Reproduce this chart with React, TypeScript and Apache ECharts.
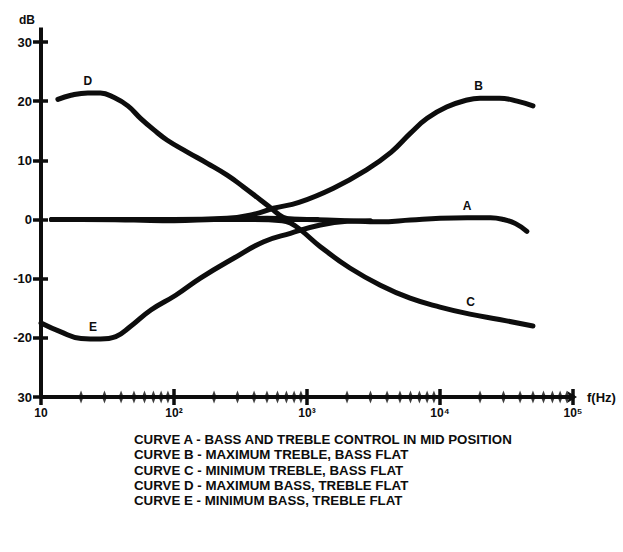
import React, { useEffect, useRef } from 'react';
import * as echarts from 'echarts';

// Frequency response curves: [frequency (Hz), gain (dB)]
const curveA = [[12, 0], [20, 0], [50, -0.1], [100, -0.2], [200, 0], [500, 0.2], [1000, 0], [2000, -0.2], [3500, -0.4], [6000, -0.1], [10000, 0.2], [16000, 0.3], [24000, 0.3], [30000, 0], [37000, -0.7], [45000, -2]];
const curveB = [[12, 0], [100, 0], [250, 0.2], [400, 0.9], [560, 1.9], [870, 2.9], [1580, 5.3], [2800, 8.4], [4300, 11.4], [6000, 14.6], [8000, 17.1], [11200, 19], [16000, 20.2], [20000, 20.5], [28000, 20.5], [38000, 20], [50000, 19.2]];
const curveC = [[12, 0], [100, 0], [400, 0], [650, -0.2], [750, -0.6], [900, -1.8], [1260, -4.6], [2100, -8.2], [3560, -11.1], [5960, -13.3], [10000, -14.8], [16800, -16], [28000, -16.9], [50000, -18]];
const curveD = [[13.4, 20.3], [16.8, 21], [22.5, 21.4], [28, 21.4], [35.5, 20.6], [45, 19.2], [56, 17.1], [71, 15.1], [89, 13.4], [126, 11.4], [178, 9.5], [251, 7.5], [333, 5.5], [447, 3.3], [537, 1.9], [660, 0.4], [800, 0], [1200, 0]];
const curveE = [[10, -17.5], [14.1, -19], [20, -20.1], [28, -20.2], [36.5, -19.8], [47, -18.1], [67, -15.3], [103, -12.8], [158, -9.9], [281, -6.55], [473, -3.75], [750, -2.33], [1260, -0.93], [2000, -0.3], [3000, -0.2]];

const curveNames = ['A', 'B', 'C', 'D', 'E'];
// where each curve letter is attached: [frequency, dB]
const curveLabelAt = [[16000, 0.3], [19500, 20.5], [17000, -16], [22.5, 21.4], [24.6, -20.2]];

const xTickLabels = ['10', '10²', '10³', '10⁴', '10⁵'];
const minorTicks = [20, 30, 40, 50, 60, 70, 80, 90, 200, 300, 400, 500, 600, 700, 800, 900, 2000, 3000, 4000, 5000, 6000, 7000, 8000, 9000, 20000, 30000, 40000, 50000, 60000, 70000, 80000, 90000];

const legendLines = [
  'CURVE A - BASS AND TREBLE CONTROL IN MID POSITION',
  'CURVE B - MAXIMUM TREBLE, BASS FLAT',
  'CURVE C - MINIMUM TREBLE, BASS FLAT',
  'CURVE D - MAXIMUM BASS, TREBLE FLAT',
  'CURVE E - MINIMUM BASS, TREBLE FLAT',
];

const INK = '#0d0d0d';
const FONT = 'Liberation Sans';

export default function App() {
  const ref = useRef<HTMLDivElement>(null);
  useEffect(() => {
    if (!ref.current) return;
    const chart = echarts.init(ref.current, undefined, { renderer: 'svg' });
    const curves = [curveA, curveB, curveC, curveD, curveE];
    const lineSeries = curves.map((c, i) => ({
      type: 'line',
      name: curveNames[i],
      data: c,
      smooth: 0.45,
      symbol: 'none',
      lineStyle: { color: INK, width: 5, cap: 'round' },
      z: 3,
      markPoint: {
        symbol: 'circle',
        symbolSize: 0,
        label: {
          show: true,
          position: 'top',
          distance: 6,
          formatter: curveNames[i],
          color: INK,
          fontFamily: FONT,
          fontWeight: 'bold',
          fontSize: 12,
        },
        data: [{ coord: curveLabelAt[i] }],
      },
    }));
    const option = {
      animation: false,
      backgroundColor: '#fff',
      title: {
        text: legendLines.join('\n'),
        left: 134,
        top: 432,
        padding: 0,
        textStyle: {
          color: INK,
          fontFamily: FONT,
          fontWeight: 'bold',
          fontSize: 13.3,
          lineHeight: 15.25,
        },
      },
      grid: { left: 41, right: 50, top: 42, bottom: 155, containLabel: false },
      xAxis: [
        {
          type: 'log',
          logBase: 10,
          min: 10,
          max: 100000,
          name: 'f(Hz)',
          nameLocation: 'end',
          nameGap: 14,
          nameTextStyle: { color: INK, fontFamily: FONT, fontWeight: 'bold', fontSize: 13 },
          axisLine: {
            show: true,
            onZero: false,
            lineStyle: { color: INK, width: 4 },
            symbol: ['none', 'arrow'],
            symbolSize: [9, 10],
            symbolOffset: [0, 4],
          },
          axisTick: { show: true, length: 8, lineStyle: { color: INK, width: 3.5 } },
          axisLabel: {
            color: INK,
            fontFamily: FONT,
            fontWeight: 'bold',
            fontSize: 12,
            margin: 10,
            formatter: (v: number) => xTickLabels[Math.round(Math.log10(v)) - 1] ?? '',
          },
          splitLine: { show: false },
          minorTick: { show: false },
        },
        {
          type: 'log',
          logBase: 10,
          min: 10,
          max: 100000,
          position: 'bottom',
          axisLine: { show: false, onZero: false },
          axisTick: { show: true, inside: true, length: 8, lineStyle: { color: INK, width: 3.5 } },
          axisLabel: { show: false },
          splitLine: { show: false },
        },
      ],
      yAxis: [
        {
          type: 'value',
          min: -30,
          max: 30,
          interval: 10,
          name: 'dB',
          nameLocation: 'end',
          nameGap: 16,
          nameTextStyle: {
            color: INK,
            fontFamily: FONT,
            fontWeight: 'bold',
            fontSize: 12,
            align: 'right',
            padding: [0, 6, 0, 0],
          },
          axisLine: {
            show: true,
            onZero: false,
            lineStyle: { color: INK, width: 4 },
            symbol: ['none', 'rect'],
            symbolSize: [4, 15],
            symbolOffset: [0, 7],
          },
          axisTick: { show: true, length: 8, lineStyle: { color: INK, width: 3.5 } },
          axisLabel: {
            color: INK,
            fontFamily: FONT,
            fontWeight: 'bold',
            fontSize: 13,
            margin: 9,
            formatter: (v: number) => (v === -30 ? '30' : String(v)),
          },
          splitLine: { show: false },
        },
        {
          type: 'value',
          min: -30,
          max: 30,
          interval: 10,
          position: 'left',
          axisLine: { show: false, onZero: false },
          axisTick: { show: true, inside: true, length: 7, lineStyle: { color: INK, width: 3.5 } },
          axisLabel: { show: false },
          splitLine: { show: false },
        },
      ],
      series: [
        ...lineSeries,
        {
          type: 'scatter',
          data: minorTicks.map((f) => [f, -30]),
          symbol: 'diamond',
          symbolSize: [5, 13],
          itemStyle: { color: INK },
          clip: false,
          silent: true,
          z: 4,
        },
      ],
    };
    chart.setOption(option as any);
    return () => chart.dispose();
  }, []);
  return (
    <div
      ref={ref}
      style={{ position: 'absolute', left: 0, top: 0, width: 623, height: 552 }}
    />
  );
}
